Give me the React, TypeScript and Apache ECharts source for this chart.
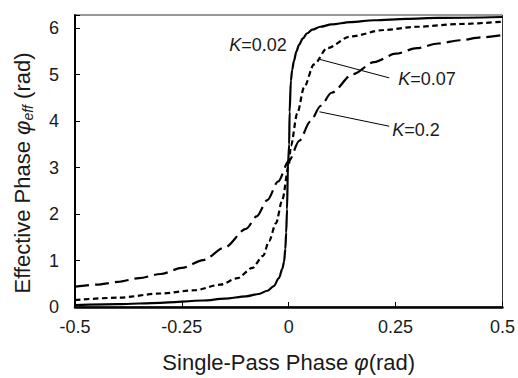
import React, { useEffect, useRef } from "react";
import * as echarts from "echarts";

// K = 0.02 (solid)
const xK002 = [-0.5, -0.4, -0.3, -0.2, -0.15, -0.1, -0.07, -0.05, -0.035, -0.023, -0.015, -0.011, -0.008, -0.006, -0.004, -0.002, 0.001, 0.002, 0.005, 0.008, 0.012, 0.018, 0.024, 0.033, 0.043, 0.055, 0.074, 0.1, 0.144, 0.2, 0.275, 0.35, 0.5];
const yK002 = [0.04, 0.06, 0.09, 0.14, 0.18, 0.23, 0.28, 0.35, 0.45, 0.62, 0.82, 0.97, 1.25, 1.6, 2.1, 3.0, 3.5, 4.2, 4.87, 5.1, 5.29, 5.5, 5.64, 5.78, 5.89, 5.97, 6.03, 6.08, 6.13, 6.17, 6.2, 6.22, 6.24];

// K = 0.07 (short dash)
const xK007 = [-0.5, -0.4, -0.3, -0.22, -0.16, -0.12, -0.085, -0.06, -0.046, -0.03, -0.015, 0, 0.005, 0.02, 0.036, 0.059, 0.09, 0.144, 0.222, 0.3, 0.4, 0.5];
const yK007 = [0.15, 0.2, 0.29, 0.36, 0.48, 0.62, 0.84, 1.1, 1.42, 1.8, 2.31, 3.05, 3.47, 4.17, 4.73, 5.22, 5.57, 5.82, 5.96, 6.03, 6.09, 6.14];

// K = 0.2 (long dash)
const xK02 = [-0.5, -0.45, -0.4, -0.35, -0.3, -0.25, -0.2, -0.15, -0.1, -0.075, -0.05, -0.025, 0, 0.025, 0.05, 0.075, 0.1, 0.15, 0.2, 0.25, 0.3, 0.35, 0.4, 0.45, 0.5];
const yK02 = [0.44, 0.48, 0.54, 0.62, 0.71, 0.84, 1.01, 1.28, 1.68, 1.95, 2.3, 2.7, 3.14, 3.58, 3.99, 4.33, 4.61, 5.01, 5.27, 5.45, 5.57, 5.67, 5.74, 5.8, 5.85];

const xTicks = [-0.5, -0.25, 0, 0.25, 0.5];
const yTicks = [0, 1, 2, 3, 4, 5, 6];

// annotations (data coordinates)
const annoLabels = ["0.02", "0.07", "0.2"];
const annoTextPos = [[-0.139, 5.64], [0.256, 4.91], [0.242, 3.81]];
const leaderFrom = [null, [0.072, 5.33], [0.072, 4.2]];
const leaderTo = [null, [0.235, 4.93], [0.235, 3.89]];

const FONT = "'Liberation Sans', Arial, sans-serif";
const TXT = "#1a1a1a";

export default function App() {
  const ref = useRef<HTMLDivElement>(null);
  useEffect(() => {
    if (!ref.current) return;
    const chart = echarts.init(ref.current, null, { renderer: "svg" });
    const mk = (xs: number[], ys: number[]) => xs.map((x, i) => [x, ys[i]]);
    chart.setOption({
      animation: false,
      grid: { left: 75, right: 13, top: 15, bottom: 65, show: true, borderColor: "#333", borderWidth: 1 },
      xAxis: {
        type: "value",
        min: xTicks[0],
        max: xTicks[xTicks.length - 1],
        interval: 0.25,
        axisLine: { show: true, lineStyle: { color: "#000", width: 2.5 } },
        axisTick: { show: true, inside: true, length: 5, lineStyle: { color: "#000", width: 1 } },
        splitLine: { show: false },
        axisLabel: { color: TXT, fontSize: 18, fontFamily: FONT, margin: 11 },
        name: "{n|Single-Pass Phase }{i|φ}{n|(rad)}",
        nameLocation: "middle",
        nameGap: 44,
        nameTextStyle: {
          rich: {
            n: { fontSize: 22, fontFamily: FONT, color: TXT },
            i: { fontSize: 22, fontFamily: FONT, color: TXT, fontStyle: "italic" },
          },
        },
      },
      yAxis: {
        type: "value",
        min: yTicks[0],
        max: 2 * Math.PI,
        interval: 1,
        axisLine: { show: true, onZero: false, lineStyle: { color: "#000", width: 2 } },
        axisTick: { show: true, inside: true, length: 5, lineStyle: { color: "#000", width: 1 } },
        splitLine: { show: false },
        axisLabel: {
          color: TXT,
          fontSize: 18,
          fontFamily: FONT,
          margin: 16,
          formatter: (v: number) => (yTicks.includes(v) ? String(v) : ""),
        },
        name: "{n|Effective Phase }{i|φ}{s|eff}{n| (rad)}",
        nameLocation: "middle",
        nameGap: 40,
        nameTextStyle: {
          padding: [0, 24, 0, 0],
          rich: {
            n: { fontSize: 22, fontFamily: FONT, color: TXT, lineHeight: 26 },
            i: { fontSize: 22, fontFamily: FONT, color: TXT, fontStyle: "italic", lineHeight: 26 },
            s: { fontSize: 14, fontFamily: FONT, color: TXT, fontStyle: "italic", verticalAlign: "bottom" },
          },
        },
      },
      series: [
        {
          type: "line",
          data: mk(xK002, yK002),
          showSymbol: false,
          smooth: 0.3,
          smoothMonotone: "x",
          lineStyle: { color: "#000", width: 2.2, type: "solid" },
        },
        {
          type: "line",
          data: mk(xK007, yK007),
          showSymbol: false,
          smooth: 0.3,
          smoothMonotone: "x",
          lineStyle: { color: "#000", width: 2.2, type: [5.5, 3.5] },
        },
        {
          type: "line",
          data: mk(xK02, yK02),
          showSymbol: false,
          smooth: 0.3,
          smoothMonotone: "x",
          lineStyle: { color: "#000", width: 2.2, type: [14, 6] },
        },
      ],
    });

    const graphics: any[] = [];
    annoLabels.forEach((lab, i) => {
      const p = chart.convertToPixel({ gridIndex: 0 }, annoTextPos[i]) as number[];
      graphics.push({
        type: "text",
        x: p[0],
        y: p[1],
        style: {
          text: "{i|K}=" + lab,
          fill: TXT,
          fontSize: 18,
          fontFamily: FONT,
          verticalAlign: "middle",
          align: "left",
          rich: { i: { fontStyle: "italic", fontSize: 18, fontFamily: FONT, fill: TXT } },
        },
      });
      const a = leaderFrom[i];
      const b = leaderTo[i];
      if (a && b) {
        const pa = chart.convertToPixel({ gridIndex: 0 }, a) as number[];
        const pb = chart.convertToPixel({ gridIndex: 0 }, b) as number[];
        graphics.push({
          type: "line",
          shape: { x1: pa[0], y1: pa[1], x2: pb[0], y2: pb[1] },
          style: { stroke: "#000", lineWidth: 1 },
        });
      }
    });
    chart.setOption({ graphic: graphics });

    return () => chart.dispose();
  }, []);
  return (
    <div
      ref={ref}
      style={{ position: "absolute", left: 0, top: 0, width: 518, height: 378 }}
    />
  );
}
